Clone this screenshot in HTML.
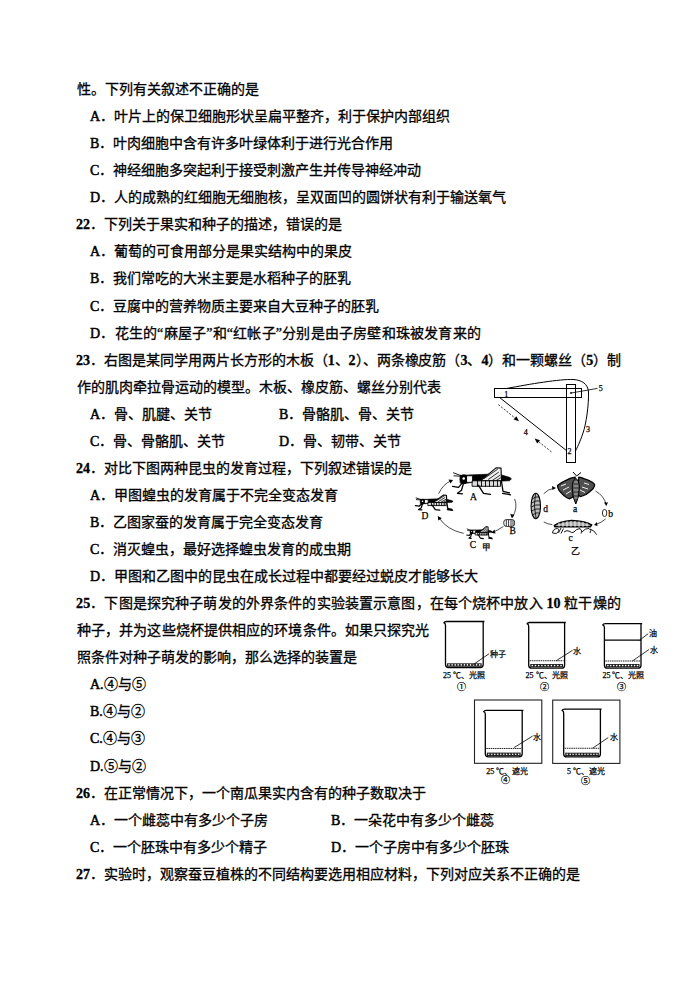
<!DOCTYPE html>
<html lang="zh-CN"><head><meta charset="utf-8"><style>
html,body{margin:0;padding:0;background:#fff}
body{width:695px;height:983px;position:relative;overflow:hidden;font-family:"Liberation Serif",serif;color:#000}
.l{position:absolute;white-space:nowrap;font-size:14px;line-height:20px;-webkit-text-stroke:0.3px #000}
.j{text-align:justify;text-align-last:justify;white-space:normal;height:20px;overflow:visible}
b{font-weight:normal;-webkit-text-stroke:0.5px #000}
em{font-style:normal;font-weight:bold}
svg{position:absolute;left:0;top:0}
</style></head><body>
<div class="l" style="left:77px;top:80.0px">性。下列有关叙述不正确的是</div>
<div class="l" style="left:90px;top:107.1px"><b>A</b>．叶片上的保卫细胞形状呈扁平整齐，利于保护内部组织</div>
<div class="l" style="left:90px;top:134.1px"><b>B</b>．叶肉细胞中含有许多叶绿体利于进行光合作用</div>
<div class="l" style="left:90px;top:161.2px"><b>C</b>．神经细胞多突起利于接受刺激产生并传导神经冲动</div>
<div class="l" style="left:90px;top:188.2px"><b>D</b>．人的成熟的红细胞无细胞核，呈双面凹的圆饼状有利于输送氧气</div>
<div class="l" style="left:76px;top:215.3px"><em>22</em>．下列关于果实和种子的描述，错误的是</div>
<div class="l" style="left:90px;top:242.4px"><b>A</b>．葡萄的可食用部分是果实结构中的果皮</div>
<div class="l" style="left:90px;top:269.4px"><b>B</b>．我们常吃的大米主要是水稻种子的胚乳</div>
<div class="l" style="left:90px;top:296.5px"><b>C</b>．豆腐中的营养物质主要来自大豆种子的胚乳</div>
<div class="l" style="left:90px;top:323.5px;letter-spacing:0.2px"><b>D</b>．花生的“麻屋子”和“红帐子”分别是由子房壁和珠被发育来的</div>
<div class="l" style="left:76px;top:350.6px;letter-spacing:-0.02px"><em>23</em>．右图是某同学用两片长方形的木板（<em>1</em>、<em>2</em>）、两条橡皮筋（<em>3</em>、<em>4</em>）和一颗螺丝（<em>5</em>）制</div>
<div class="l" style="left:77px;top:377.7px">作的肌肉牵拉骨运动的模型。木板、橡皮筋、螺丝分别代表</div>
<div class="l" style="left:90px;top:404.7px"><b>A</b>．骨、肌腱、关节<span style='position:absolute;left:189px'><b>B</b>．骨骼肌、骨、关节</span></div>
<div class="l" style="left:90px;top:431.8px"><b>C</b>．骨、骨骼肌、关节<span style='position:absolute;left:189px'><b>D</b>．骨、韧带、关节</span></div>
<div class="l" style="left:76px;top:458.8px"><em>24</em>．对比下图两种昆虫的发育过程，下列叙述错误的是</div>
<div class="l" style="left:90px;top:485.9px"><b>A</b>．甲图蝗虫的发育属于不完全变态发育</div>
<div class="l" style="left:90px;top:513.0px"><b>B</b>．乙图家蚕的发育属于完全变态发育</div>
<div class="l" style="left:90px;top:540.0px"><b>C</b>．消灭蝗虫，最好选择蝗虫发育的成虫期</div>
<div class="l" style="left:90px;top:567.1px"><b>D</b>．甲图和乙图中的昆虫在成长过程中都要经过蜕皮才能够长大</div>
<div class="l" style="left:76px;top:594.1px;letter-spacing:0.14px"><em>25</em>．下图是探究种子萌发的外界条件的实验装置示意图，在每个烧杯中放入 <em>10</em> 粒干燥的</div>
<div class="l" style="left:77px;top:621.2px;letter-spacing:0.1px">种子，并为这些烧杯提供相应的环境条件。如果只探究光</div>
<div class="l" style="left:77px;top:648.3px">照条件对种子萌发的影响，那么选择的装置是</div>
<div class="l" style="left:90px;top:675.3px"><b>A.</b>④与⑤</div>
<div class="l" style="left:90px;top:702.4px"><b>B.</b>④与②</div>
<div class="l" style="left:90px;top:729.4px"><b>C.</b>④与③</div>
<div class="l" style="left:90px;top:756.5px"><b>D.</b>⑤与②</div>
<div class="l" style="left:76px;top:783.6px"><em>26</em>．在正常情况下，一个南瓜果实内含有的种子数取决于</div>
<div class="l" style="left:90px;top:810.6px"><b>A</b>．一个雌蕊中有多少个子房<span style='position:absolute;left:241px'><b>B</b>．一朵花中有多少个雌蕊</span></div>
<div class="l" style="left:90px;top:837.7px"><b>C</b>．一个胚珠中有多少个精子<span style='position:absolute;left:241px'><b>D</b>．一个子房中有多少个胚珠</span></div>
<div class="l" style="left:76px;top:864.7px"><em>27</em>．实验时，观察蚕豆植株的不同结构要选用相应材料，下列对应关系不正确的是</div>
<svg width="695" height="983" viewBox="0 0 695 983">
<g fill="none" stroke="#000" stroke-width="1">
<rect x="494.5" y="388.5" width="87" height="9"/>
<rect x="566.5" y="384.5" width="9" height="78"/>
<path d="M506.5,388.5 C530,384 560,379 573,379.5 C582,380 588,384 588.5,392 C589,404 586,425 583,433 C580,442 577,448 575.5,451"/>
<line x1="499.6" y1="397.5" x2="566.5" y2="450.6"/>
<line x1="571" y1="393" x2="597.5" y2="388.4" stroke-width="0.8"/>
<path d="M498.4,404.6 L516,418.8" stroke-dasharray="2,1.5" stroke-width="0.8"/>
<path d="M551.4,451.8 L537.5,440.8" stroke-dasharray="2,1.5" stroke-width="0.8"/>
</g>
<path d="M519,421.2 L513.6,419.6 L516.4,416.3 Z" fill="#000"/>
<path d="M534.6,438.6 L540,440.2 L537.2,443.5 Z" fill="#000"/>
<circle cx="571" cy="393" r="0.9" fill="#000"/>
<text x="504.2" y="396.5" font-size="8" text-anchor="start" font-family="Liberation Serif" stroke="#000" stroke-width="0.25" >1</text>
<text x="567.6" y="454" font-size="8" text-anchor="start" font-family="Liberation Serif" stroke="#000" stroke-width="0.25" >2</text>
<text x="586" y="432" font-size="8" text-anchor="start" font-family="Liberation Serif" stroke="#000" stroke-width="0.25" >3</text>
<text x="523.8" y="435" font-size="8" text-anchor="start" font-family="Liberation Serif" stroke="#000" stroke-width="0.25" >4</text>
<text x="598.8" y="390.5" font-size="8" text-anchor="start" font-family="Liberation Serif" stroke="#000" stroke-width="0.25" >5</text>
<g transform="translate(451.5,466.3) scale(1.0,1.0)" stroke="#000" stroke-linecap="round" stroke-linejoin="round">
<path d="M2,6.5 L10,9.5 M2.5,9.5 L10,10" fill="none" stroke-width="0.9"/>
<path d="M9,9 L46,7.5 L58,11 L60,12.5 L58,14.5 L46,15 L21,16 L15,17 L9,17 Z" fill="#000" stroke-width="0.6"/>
<ellipse cx="12.5" cy="13" rx="3.8" ry="4.4" fill="#000"/>
<circle cx="12.2" cy="12.2" r="1.3" fill="#fff" stroke="none"/>
<path d="M15.5,9.5 L21,9.5 L21,16 L15.5,16 Z" fill="#fff" stroke-width="0.8"/>
<path d="M29,14.5 L44.5,1.5 L49.5,1.8 L50,14.5 Z" fill="#eee" stroke-width="1.1"/>
<path d="M33,12 L46,3 M37,13 L47,6 M41,14 L48.5,9 M45,14 L49,11.5" fill="none" stroke-width="0.8"/>
<path d="M21,14.5 L49,14.5 L49,20 L21,20 Z" fill="#ddd" stroke-width="0.9"/>
<path d="M26,14.5 V20 M30,14.5 V20 M34,14.5 V20 M38,14.5 V20 M42,14.5 V20 M46,14.5 V20" fill="none" stroke-width="0.9"/>
<path d="M12,17 L10,24 L6,27 L11,27.5 M1,20 L7,21 L10,17.5 M27,19 L32,27 L39,28 M50,15 L51.5,25 L58,26.5 M51,27 L59,28.5" fill="none" stroke-width="1.3"/>
</g>
<g transform="translate(414.8,494.2) scale(0.64,0.57)" stroke="#000" stroke-linecap="round" stroke-linejoin="round">
<path d="M2,6.5 L10,9.5 M2.5,9.5 L10,10" fill="none" stroke-width="1.4400000000000002"/>
<path d="M9,9 L46,7.5 L58,11 L60,12.5 L58,14.5 L46,15 L21,16 L15,17 L9,17 Z" fill="#000" stroke-width="0.6"/>
<ellipse cx="12.5" cy="13" rx="3.8" ry="4.4" fill="#000"/>
<circle cx="12.2" cy="12.2" r="1.3" fill="#fff" stroke="none"/>
<path d="M15.5,9.5 L21,9.5 L21,16 L15.5,16 Z" fill="#fff" stroke-width="1.2800000000000002"/>
<path d="M29,14.5 L44.5,1.5 L49.5,1.8 L50,14.5 Z" fill="#eee" stroke-width="1.7600000000000002"/>
<path d="M33,12 L46,3 M37,13 L47,6 M41,14 L48.5,9 M45,14 L49,11.5" fill="none" stroke-width="1.2800000000000002"/>
<path d="M21,14.5 L49,14.5 L49,20 L21,20 Z" fill="#ddd" stroke-width="1.4400000000000002"/>
<path d="M26,14.5 V20 M30,14.5 V20 M34,14.5 V20 M38,14.5 V20 M42,14.5 V20 M46,14.5 V20" fill="none" stroke-width="1.4400000000000002"/>
<path d="M12,17 L10,24 L6,27 L11,27.5 M1,20 L7,21 L10,17.5 M27,19 L32,27 L39,28 M50,15 L51.5,25 L58,26.5 M51,27 L59,28.5" fill="none" stroke-width="2.08"/>
</g>
<g transform="translate(466.3,526.0) scale(0.44,0.45)" stroke="#000" stroke-linecap="round" stroke-linejoin="round">
<path d="M2,6.5 L10,9.5 M2.5,9.5 L10,10" fill="none" stroke-width="1.71"/>
<path d="M9,9 L46,7.5 L58,11 L60,12.5 L58,14.5 L46,15 L21,16 L15,17 L9,17 Z" fill="#000" stroke-width="0.6"/>
<ellipse cx="12.5" cy="13" rx="3.8" ry="4.4" fill="#000"/>
<circle cx="12.2" cy="12.2" r="1.3" fill="#fff" stroke="none"/>
<path d="M15.5,9.5 L21,9.5 L21,16 L15.5,16 Z" fill="#fff" stroke-width="1.52"/>
<path d="M29,14.5 L44.5,1.5 L49.5,1.8 L50,14.5 Z" fill="#eee" stroke-width="2.09"/>
<path d="M33,12 L46,3 M37,13 L47,6 M41,14 L48.5,9 M45,14 L49,11.5" fill="none" stroke-width="1.52"/>
<path d="M21,14.5 L49,14.5 L49,20 L21,20 Z" fill="#ddd" stroke-width="1.71"/>
<path d="M26,14.5 V20 M30,14.5 V20 M34,14.5 V20 M38,14.5 V20 M42,14.5 V20 M46,14.5 V20" fill="none" stroke-width="1.71"/>
<path d="M12,17 L10,24 L6,27 L11,27.5 M1,20 L7,21 L10,17.5 M27,19 L32,27 L39,28 M50,15 L51.5,25 L58,26.5 M51,27 L59,28.5" fill="none" stroke-width="2.4699999999999998"/>
</g>
<g stroke="#000" fill="#fff" stroke-width="0.8"><rect x="503.8" y="519.6" width="10.8" height="6.8" rx="2.5"/><path d="M506.3,519.8 V526.2 M508.6,519.8 V526.2 M511,519.8 V526.2 M513,520.2 V525.8" fill="none"/></g>
<g fill="none" stroke="#000" stroke-width="0.7">
<path d="M438.7,493.7 Q443,484 451,480.8"/>
<path d="M514.7,498.9 Q518,508 512.5,517"/>
<path d="M503.4,526.5 Q498,530 492.5,532.5"/>
<path d="M463.7,533.4 Q447,530 438.7,517.5"/>
</g>
<g fill="#000"><path d="M453,480 L448.5,479.5 L450.6,483.5 Z"/><path d="M512,518.5 L510.2,514 L514.4,514.8 Z"/><path d="M491.5,533 L494.5,529.5 L495.5,533.5 Z"/><path d="M437.8,516 L438.2,520.5 L441.8,518.3 Z"/></g>
<text x="470" y="500" font-size="9.5" text-anchor="start" font-family="Liberation Serif" stroke="#000" stroke-width="0.25" >A</text>
<text x="421.5" y="518.5" font-size="9.5" text-anchor="start" font-family="Liberation Serif" stroke="#000" stroke-width="0.25" >D</text>
<text x="469.8" y="547.5" font-size="9.5" text-anchor="start" font-family="Liberation Serif" stroke="#000" stroke-width="0.25" >C</text>
<text x="509.5" y="534" font-size="9.5" text-anchor="start" font-family="Liberation Serif" stroke="#000" stroke-width="0.25" >B</text>
<text x="481.5" y="549.5" font-size="8.5" text-anchor="start" font-family="Liberation Serif" stroke="#000" stroke-width="0.25" >甲</text>
<g stroke="#000" stroke-linejoin="round">
<path d="M575.2,477.2 Q570,478 568,479.4 Q562,482 557.5,485.5 Q557.5,488 559.4,490.9 Q561.5,493.5 564.4,495.9 Q567,498.5 569.4,498.8 L573,497 Z" fill="#505050" stroke-width="1.3"/>
<path d="M578.8,477.2 Q582,477.5 583.8,478.6 Q589,480 592.4,482.2 Q595,484 594.6,485.5 Q593.5,488.5 591.7,490.1 Q589,492.5 586,494.5 Q583,496 580.2,496.6 L577.5,494 Z" fill="#505050" stroke-width="1.3"/>
<path d="M561,486 L566,484 M563,490 L569,487 M566,494 L571,491 M589,484.5 L584,483 M588,489 L582,487 M585,492.5 L580,490" stroke="#eee" stroke-width="1" fill="none"/>
<path d="M575.8,478.5 Q579.5,480 579.3,488 Q579,498 575.8,504 Q572.5,498 572.3,488 Q572.2,480 575.8,478.5 Z" fill="#555" stroke-width="1"/>
<path d="M574,482 H578 M573.5,486 H578.5 M573.5,490 H578.5 M573.8,494 H578 M574.2,498 H577.5" stroke="#ddd" stroke-width="0.7" fill="none"/>
<path d="M576.6,476 L573,472 M576.6,476 L581,472.5" fill="none" stroke-width="1"/>
</g>
<g stroke="#000">
<ellipse cx="535.8" cy="506" rx="4.7" ry="12.8" fill="#bbb" stroke-width="1.1"/>
<path d="M532,499 Q536,496 539.5,497 M531.5,503 Q536,500 540,501 M531.3,507 Q536,504 540.3,505 M531.5,511 Q536,508 540,509 M532.5,515 Q536,512 539.3,513 M535.5,494 Q533,505 536,518" fill="none" stroke-width="0.8"/>
</g>
<g stroke="#000" stroke-linejoin="round">
<path d="M554.3,525.6 Q560,521.5 571.6,520.6 Q584,521 591.7,524.8 L590.3,526.8 L555,526.8 Z" fill="#aaa" stroke-width="1.5"/>
<path d="M559,522.8 V526.5 M563,521.8 V526.8 M567,521.2 V526.8 M571,521 V526.8 M575,521 V526.8 M579,521.3 V526.8 M583,521.8 V526.8 M587,522.8 V526.5" stroke="#fff" stroke-width="0.9" fill="none"/>
<path d="M552.5,533 Q553,528.5 557.5,528.5 Q560.5,529.5 556.5,533.5 Z M558.5,533 L561,528 M561,533.5 L563.5,528.5 M564,532 Q567,529.5 570,531.5 Q571.5,533.5 574,532 Q576,529 580,528.5 Q583,531 581,533.5 M582,532 Q585,528 589,528.5 Q592,530 590,533 M590,529 Q594,530 596.8,534.7" fill="none" stroke-width="0.9"/>
</g>
<g fill="none" stroke="#000" stroke-width="0.7">
<path d="M543.7,493.8 Q548,489 554,488.3"/>
<path d="M595.5,491 Q604,496 606,504"/>
<path d="M605.6,519 Q601,523 595.5,524.5"/>
<path d="M552.3,524.7 Q547,524 543.7,521.9"/>
</g>
<g fill="#000"><path d="M556,488 L552,486 L552.5,490 Z"/><path d="M606.3,506 L604,502.5 L608,502.5 Z"/><path d="M594,525 L597,522 L597.5,526 Z"/></g>
<ellipse cx="604.6" cy="513" rx="2.2" ry="3.6" fill="none" stroke="#000" stroke-width="0.8"/>
<text x="608.2" y="516.5" font-size="9.5" text-anchor="start" font-family="Liberation Serif" stroke="#000" stroke-width="0.25" >b</text>
<text x="543.3" y="512" font-size="9.5" text-anchor="start" font-family="Liberation Serif" stroke="#000" stroke-width="0.25" >d</text>
<text x="573" y="511.5" font-size="9.5" text-anchor="start" font-family="Liberation Serif" stroke="#000" stroke-width="0.25" >a</text>
<text x="568.6" y="540.5" font-size="9.5" text-anchor="start" font-family="Liberation Serif" stroke="#000" stroke-width="0.25" >c</text>
<text x="570.5" y="553.5" font-size="9" text-anchor="start" font-family="Liberation Serif" stroke="#000" stroke-width="0.25" font-weight="normal">乙</text>
<path d="M443.5,623.3 Q444.5,621.5 446.5,621.5 L484.4,621.5 M443.9,622.7 Q445.5,623.5 445.5,625.5 L445.5,664.5 Q445.5,667.5 448.5,667.5 L480.2,667.5 Q483.2,667.5 483.2,664.5 L483.2,621.5" fill="none" stroke="#000" stroke-width="1.3"/>
<rect x="447.0" y="663.3" width="34.69999999999999" height="3.4" fill="#222"/>
<circle cx="449.0" cy="664.9" r="0.8" fill="#fff"/>
<circle cx="452.1" cy="664.9" r="0.8" fill="#fff"/>
<circle cx="455.2" cy="664.9" r="0.8" fill="#fff"/>
<circle cx="458.2" cy="664.9" r="0.8" fill="#fff"/>
<circle cx="461.3" cy="664.9" r="0.8" fill="#fff"/>
<circle cx="464.4" cy="664.9" r="0.8" fill="#fff"/>
<circle cx="467.4" cy="664.9" r="0.8" fill="#fff"/>
<circle cx="470.5" cy="664.9" r="0.8" fill="#fff"/>
<circle cx="473.5" cy="664.9" r="0.8" fill="#fff"/>
<circle cx="476.6" cy="664.9" r="0.8" fill="#fff"/>
<circle cx="479.7" cy="664.9" r="0.8" fill="#fff"/>
<line x1="473.2" y1="664.6" x2="489" y2="653.8" stroke="#000" stroke-width="0.8"/>
<text x="489.5" y="656.5" font-size="8" text-anchor="start" font-family="Liberation Serif" stroke="#000" stroke-width="0.25" >种子</text>
<text x="464" y="678" font-size="8" text-anchor="middle" font-family="Liberation Serif" stroke="#000" stroke-width="0.25" >25 ℃、光照</text>
<text x="461.6" y="689.5" font-size="9" text-anchor="middle" font-family="Liberation Serif" stroke="#000" stroke-width="0.25" >①</text>
<path d="M526.7,624.3 Q527.7,622.5 529.7,622.5 L565.8000000000001,622.5 M527.1,623.7 Q528.7,624.5 528.7,626.5 L528.7,665.2 Q528.7,668.2 531.7,668.2 L561.6,668.2 Q564.6,668.2 564.6,665.2 L564.6,622.5" fill="none" stroke="#000" stroke-width="1.3"/>
<line x1="529.7" y1="660.8" x2="563.6" y2="660.8" stroke="#222" stroke-width="1.1" stroke-dasharray="1.5,0.7"/>
<rect x="530.2" y="664.0" width="32.89999999999998" height="3.4" fill="#222"/>
<circle cx="532.3" cy="665.6" r="0.8" fill="#fff"/>
<circle cx="535.5" cy="665.6" r="0.8" fill="#fff"/>
<circle cx="538.7" cy="665.6" r="0.8" fill="#fff"/>
<circle cx="541.9" cy="665.6" r="0.8" fill="#fff"/>
<circle cx="545.1" cy="665.6" r="0.8" fill="#fff"/>
<circle cx="548.2" cy="665.6" r="0.8" fill="#fff"/>
<circle cx="551.4" cy="665.6" r="0.8" fill="#fff"/>
<circle cx="554.6" cy="665.6" r="0.8" fill="#fff"/>
<circle cx="557.8" cy="665.6" r="0.8" fill="#fff"/>
<circle cx="561.0" cy="665.6" r="0.8" fill="#fff"/>
<line x1="556" y1="660.8" x2="572.6" y2="650.3" stroke="#000" stroke-width="0.8"/>
<text x="573" y="653.8" font-size="8" text-anchor="start" font-family="Liberation Serif" stroke="#000" stroke-width="0.25" >水</text>
<text x="546.6" y="678" font-size="8" text-anchor="middle" font-family="Liberation Serif" stroke="#000" stroke-width="0.25" >25 ℃、光照</text>
<text x="544.2" y="689.5" font-size="9" text-anchor="middle" font-family="Liberation Serif" stroke="#000" stroke-width="0.25" >②</text>
<path d="M602.4,625.4 Q603.4,623.6 605.4,623.6 L642.2,623.6 M602.8,624.8000000000001 Q604.4,625.6 604.4,627.6 L604.4,665.2 Q604.4,668.2 607.4,668.2 L638,668.2 Q641,668.2 641,665.2 L641,623.6" fill="none" stroke="#000" stroke-width="1.3"/>
<line x1="604.4" y1="640.2" x2="641" y2="640.2" stroke="#000" stroke-width="1.2"/>
<line x1="605.4" y1="661" x2="640" y2="661" stroke="#222" stroke-width="1.1" stroke-dasharray="1.5,0.7"/>
<rect x="605.9" y="664.0" width="33.60000000000002" height="3.4" fill="#222"/>
<circle cx="607.9" cy="665.6" r="0.8" fill="#fff"/>
<circle cx="610.8" cy="665.6" r="0.8" fill="#fff"/>
<circle cx="613.8" cy="665.6" r="0.8" fill="#fff"/>
<circle cx="616.8" cy="665.6" r="0.8" fill="#fff"/>
<circle cx="619.7" cy="665.6" r="0.8" fill="#fff"/>
<circle cx="622.7" cy="665.6" r="0.8" fill="#fff"/>
<circle cx="625.7" cy="665.6" r="0.8" fill="#fff"/>
<circle cx="628.6" cy="665.6" r="0.8" fill="#fff"/>
<circle cx="631.6" cy="665.6" r="0.8" fill="#fff"/>
<circle cx="634.6" cy="665.6" r="0.8" fill="#fff"/>
<circle cx="637.5" cy="665.6" r="0.8" fill="#fff"/>
<line x1="639.6" y1="640.2" x2="648.2" y2="633.7" stroke="#000" stroke-width="0.8"/>
<line x1="632.4" y1="661" x2="649" y2="649.5" stroke="#000" stroke-width="0.8"/>
<text x="649" y="636" font-size="8" text-anchor="start" font-family="Liberation Serif" stroke="#000" stroke-width="0.25" >油</text>
<text x="649.5" y="652.5" font-size="8" text-anchor="start" font-family="Liberation Serif" stroke="#000" stroke-width="0.25" >水</text>
<text x="623.4" y="678" font-size="8" text-anchor="middle" font-family="Liberation Serif" stroke="#000" stroke-width="0.25" >25 ℃、光照</text>
<text x="621.2" y="689.5" font-size="9" text-anchor="middle" font-family="Liberation Serif" stroke="#000" stroke-width="0.25" >③</text>
<rect x="474.5" y="700" width="67.3" height="63.3" fill="none" stroke="#222" stroke-width="1.1"/>
<rect x="552.7" y="700.1" width="67.2" height="63.3" fill="none" stroke="#222" stroke-width="1.1"/>
<path d="M483.3,712.0999999999999 Q484.3,710.3 486.3,710.3 L523.4000000000001,710.3 M483.7,711.5 Q485.3,712.3 485.3,714.3 L485.3,753.8 Q485.3,756.8 488.3,756.8 L519.2,756.8 Q522.2,756.8 522.2,753.8 L522.2,710.3" fill="none" stroke="#000" stroke-width="1.3"/>
<line x1="486.3" y1="748.5" x2="521.2" y2="748.5" stroke="#222" stroke-width="1.1" stroke-dasharray="1.5,0.7"/>
<rect x="486.8" y="752.5999999999999" width="33.900000000000034" height="3.4" fill="#222"/>
<circle cx="488.8" cy="754.2" r="0.8" fill="#fff"/>
<circle cx="491.8" cy="754.2" r="0.8" fill="#fff"/>
<circle cx="494.8" cy="754.2" r="0.8" fill="#fff"/>
<circle cx="497.8" cy="754.2" r="0.8" fill="#fff"/>
<circle cx="500.8" cy="754.2" r="0.8" fill="#fff"/>
<circle cx="503.8" cy="754.2" r="0.8" fill="#fff"/>
<circle cx="506.7" cy="754.2" r="0.8" fill="#fff"/>
<circle cx="509.7" cy="754.2" r="0.8" fill="#fff"/>
<circle cx="512.7" cy="754.2" r="0.8" fill="#fff"/>
<circle cx="515.7" cy="754.2" r="0.8" fill="#fff"/>
<circle cx="518.7" cy="754.2" r="0.8" fill="#fff"/>
<line x1="514.1" y1="747.6" x2="532.6" y2="736.1" stroke="#000" stroke-width="0.8"/>
<text x="532.6" y="739.5" font-size="8" text-anchor="start" font-family="Liberation Serif" stroke="#000" stroke-width="0.25" >水</text>
<text x="507.2" y="773.5" font-size="8" text-anchor="middle" font-family="Liberation Serif" stroke="#000" stroke-width="0.25" >25 ℃、遮光</text>
<text x="505.5" y="783" font-size="9" text-anchor="middle" font-family="Liberation Serif" stroke="#000" stroke-width="0.25" >④</text>
<path d="M561.7,711.0 Q562.7,709.2 564.7,709.2 L601.6,709.2 M562.1,710.4000000000001 Q563.7,711.2 563.7,713.2 L563.7,753.9 Q563.7,756.9 566.7,756.9 L597.4,756.9 Q600.4,756.9 600.4,753.9 L600.4,709.2" fill="none" stroke="#000" stroke-width="1.3"/>
<line x1="564.7" y1="748.3" x2="599.4" y2="748.3" stroke="#222" stroke-width="1.1" stroke-dasharray="1.5,0.7"/>
<rect x="565.2" y="752.6999999999999" width="33.69999999999993" height="3.4" fill="#222"/>
<circle cx="567.2" cy="754.3" r="0.8" fill="#fff"/>
<circle cx="570.2" cy="754.3" r="0.8" fill="#fff"/>
<circle cx="573.1" cy="754.3" r="0.8" fill="#fff"/>
<circle cx="576.1" cy="754.3" r="0.8" fill="#fff"/>
<circle cx="579.1" cy="754.3" r="0.8" fill="#fff"/>
<circle cx="582.0" cy="754.3" r="0.8" fill="#fff"/>
<circle cx="585.0" cy="754.3" r="0.8" fill="#fff"/>
<circle cx="588.0" cy="754.3" r="0.8" fill="#fff"/>
<circle cx="591.0" cy="754.3" r="0.8" fill="#fff"/>
<circle cx="593.9" cy="754.3" r="0.8" fill="#fff"/>
<circle cx="596.9" cy="754.3" r="0.8" fill="#fff"/>
<line x1="592.5" y1="748.3" x2="608.3" y2="737.5" stroke="#000" stroke-width="0.8"/>
<text x="609.8" y="739.5" font-size="8" text-anchor="start" font-family="Liberation Serif" stroke="#000" stroke-width="0.25" >水</text>
<text x="586" y="773.5" font-size="8" text-anchor="middle" font-family="Liberation Serif" stroke="#000" stroke-width="0.25" >5 ℃、遮光</text>
<text x="585" y="783.5" font-size="9" text-anchor="middle" font-family="Liberation Serif" stroke="#000" stroke-width="0.25" >⑤</text>
</svg>
</body></html>
